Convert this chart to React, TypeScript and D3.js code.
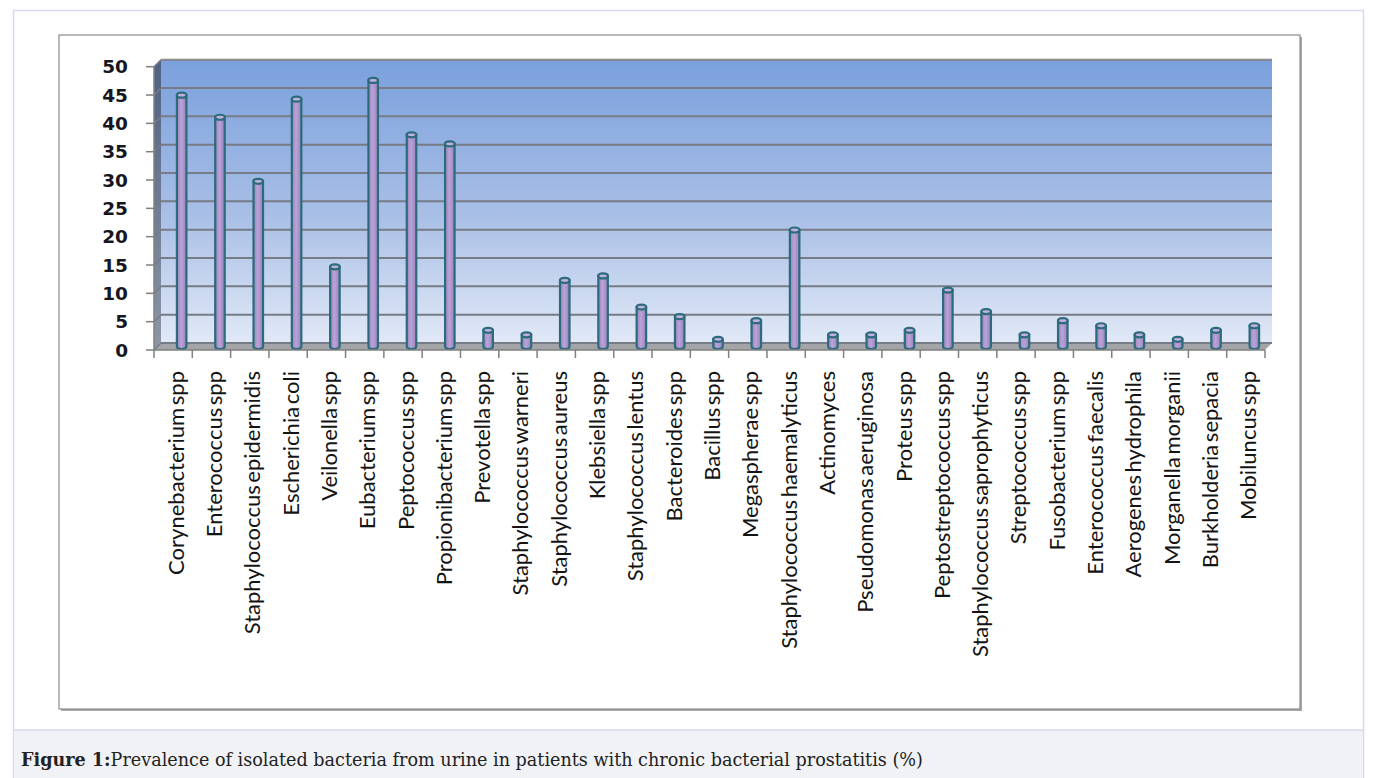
import React, { useEffect, useRef } from 'react';
import * as d3 from 'd3';

const categories: string[] = [
    'Corynebacterium spp', 'Enterococcus spp', 'Staphylococcus epidermidis', 'Escherichia coli',
    'Veilonella spp', 'Eubacterium spp', 'Peptococcus spp', 'Propionibacterium spp', 'Prevotella spp',
    'Staphylococcus warneri', 'Staphylococcus aureus', 'Klebsiella spp', 'Staphylococcus lentus',
    'Bacteroides spp', 'Bacillus spp', 'Megaspherae spp', 'Staphylococcus haemalyticus', 'Actinomyces',
    'Pseudomonas aeruginosa', 'Proteus spp', 'Peptostreptococcus spp', 'Staphylococcus saprophyticus',
    'Streptococcus spp', 'Fusobacterium  spp', 'Enterococcus faecalis', 'Aerogenes hydrophila',
    'Morganella morganii', 'Burkholderia sepacia', 'Mobiluncus spp'
];

const prevalence: number[] = [
    44.8, 40.9, 29.6, 44.1, 14.5, 47.4, 37.8, 36.2, 3.3, 2.5, 12.1, 12.9, 7.4, 5.7, 1.7,
    5.0, 21.0, 2.5, 2.5, 3.3, 10.4, 6.6, 2.5, 5.0, 4.1, 2.5, 1.7, 3.3, 4.1
];

const yTicks: number[] = [0, 5, 10, 15, 20, 25, 30, 35, 40, 45, 50];

const captionBold = 'Figure 1:';
const captionText = 'Prevalence of isolated bacteria from urine in patients with chronic bacterial prostatitis (%)';

export default function App() {
    const svgRef = useRef<SVGSVGElement>(null);

    useEffect(() => {
        if (!svgRef.current) return;
        const svg = d3.select(svgRef.current);
        svg.selectAll('*').remove();

        const W = 1375;
        const H = 778;

        // depth of the 3D box
        const dx = 7;
        const dy = -7;

        const x = d3.scaleBand<string>()
            .domain(categories)
            .range([154, 1265])
            .paddingInner(0)
            .paddingOuter(0);

        const y = d3.scaleLinear().domain([0, 50]).range([350, 66.7]);

        const defs = svg.append('defs');

        const wallGrad = defs.append('linearGradient')
            .attr('id', 'wall').attr('x1', 0).attr('y1', 0).attr('x2', 0).attr('y2', 1);
        wallGrad.append('stop').attr('offset', '0%').attr('stop-color', '#7aa0dd');
        wallGrad.append('stop').attr('offset', '55%').attr('stop-color', '#a9bfe6');
        wallGrad.append('stop').attr('offset', '100%').attr('stop-color', '#e1e9f7');

        const sideGrad = defs.append('linearGradient')
            .attr('id', 'side').attr('x1', 0).attr('y1', 0).attr('x2', 0).attr('y2', 1);
        sideGrad.append('stop').attr('offset', '0%').attr('stop-color', '#4f6184');
        sideGrad.append('stop').attr('offset', '100%').attr('stop-color', '#8d96a6');

        const barGrad = defs.append('linearGradient')
            .attr('id', 'bar').attr('x1', 0).attr('y1', 0).attr('x2', 1).attr('y2', 0);
        barGrad.append('stop').attr('offset', '0%').attr('stop-color', '#9a84bd');
        barGrad.append('stop').attr('offset', '45%').attr('stop-color', '#b9a3d8');
        barGrad.append('stop').attr('offset', '100%').attr('stop-color', '#9882bb');

        // page background and border
        svg.append('rect').attr('width', W).attr('height', H).attr('fill', '#ffffff');
        svg.append('rect')
            .attr('x', 13.5).attr('y', 10.5).attr('width', 1350).attr('height', H)
            .attr('fill', '#ffffff').attr('stroke', '#d8d9ee').attr('stroke-width', 1.5);

        // caption band
        svg.append('rect')
            .attr('x', 14).attr('y', 730).attr('width', 1349).attr('height', H - 730)
            .attr('fill', '#f1f2f6');
        svg.append('line')
            .attr('x1', 14).attr('x2', 1363).attr('y1', 730).attr('y2', 730)
            .attr('stroke', '#d8daec').attr('stroke-width', 1.5);

        const caption = svg.append('text')
            .attr('x', 21).attr('y', 766)
            .attr('font-family', '"DejaVu Serif", serif')
            .attr('font-size', '17.6px')
            .attr('fill', '#222');
        caption.append('tspan').attr('font-weight', 'bold').text(captionBold);
        caption.append('tspan').text(captionText);

        // chart frame with shadow
        svg.append('rect')
            .attr('x', 61).attr('y', 37).attr('width', 1241).attr('height', 674)
            .attr('fill', '#a9a9a9');
        svg.append('rect')
            .attr('x', 59).attr('y', 35).attr('width', 1241).attr('height', 674)
            .attr('fill', '#ffffff').attr('stroke', '#8a8a8a').attr('stroke-width', 1.2);

        const x0 = x.range()[0];
        const x1 = x.range()[1];

        // back wall
        svg.append('rect')
            .attr('x', x0 + dx).attr('y', y(50) + dy)
            .attr('width', x1 - x0).attr('height', y(0) - y(50))
            .attr('fill', 'url(#wall)');

        // left wall
        svg.append('path')
            .attr('d', `M${x0},${y(0)}L${x0},${y(50)}L${x0 + dx},${y(50) + dy}L${x0 + dx},${y(0) + dy}Z`)
            .attr('fill', 'url(#side)');

        // floor
        svg.append('path')
            .attr('d', `M${x0},${y(0)}L${x1},${y(0)}L${x1 + dx},${y(0) + dy}L${x0 + dx},${y(0) + dy}Z`)
            .attr('fill', '#a3a5a9');

        // gridlines (back wall + left wall)
        yTicks.forEach(v => {
            svg.append('line')
                .attr('x1', x0 + dx).attr('x2', x1 + dx)
                .attr('y1', y(v) + dy).attr('y2', y(v) + dy)
                .attr('stroke', '#767b85').attr('stroke-width', 2);
            svg.append('line')
                .attr('x1', x0).attr('x2', x0 + dx)
                .attr('y1', y(v)).attr('y2', y(v) + dy)
                .attr('stroke', '#767b85').attr('stroke-width', 1.5);
        });
        svg.append('line')
            .attr('x1', x0 + dx).attr('x2', x1 + dx)
            .attr('y1', y(50) + dy).attr('y2', y(50) + dy)
            .attr('stroke', '#8d8d8d').attr('stroke-width', 1.5);

        // bars as cylinders
        const bw = 9.5;
        const ry = 2.5;
        const bars = svg.append('g');
        categories.forEach((c, i) => {
            const cx = (x(c) as number) + x.bandwidth() / 2 + 8.5;
            const top = y(prevalence[i]) + dy / 2 + ry;
            const bottom = y(0) + dy / 2;
            const g = bars.append('g');
            g.append('path')
                .attr('d', `M${cx - bw / 2},${top}L${cx - bw / 2},${bottom}A${bw / 2},${ry} 0 0 0 ${cx + bw / 2},${bottom}L${cx + bw / 2},${top}Z`)
                .attr('fill', 'url(#bar)')
                .attr('stroke', '#2b6b7b').attr('stroke-width', 2.2);
            g.append('ellipse')
                .attr('cx', cx).attr('cy', top).attr('rx', bw / 2).attr('ry', ry)
                .attr('fill', '#c2b0de')
                .attr('stroke', '#2b6b7b').attr('stroke-width', 2.2);
        });

        // y axis
        svg.append('line')
            .attr('x1', x0).attr('x2', x0).attr('y1', y(50)).attr('y2', y(0))
            .attr('stroke', '#808080').attr('stroke-width', 1.5);
        yTicks.forEach(v => {
            svg.append('line')
                .attr('x1', x0 - 8).attr('x2', x0).attr('y1', y(v)).attr('y2', y(v))
                .attr('stroke', '#808080').attr('stroke-width', 1.5);
            svg.append('text')
                .attr('x', 128).attr('y', y(v))
                .attr('dy', '0.36em')
                .attr('text-anchor', 'end')
                .attr('font-family', '"DejaVu Sans", sans-serif')
                .attr('font-weight', 'bold')
                .attr('font-size', '18.5px')
                .attr('fill', '#161622')
                .text(String(v));
        });

        // x axis
        svg.append('line')
            .attr('x1', x0).attr('x2', x1).attr('y1', y(0)).attr('y2', y(0))
            .attr('stroke', '#808080').attr('stroke-width', 1.5);
        const edges = categories.map(c => x(c) as number).concat([x1]);
        edges.forEach(e => {
            svg.append('line')
                .attr('x1', e).attr('x2', e).attr('y1', y(0)).attr('y2', y(0) + 8)
                .attr('stroke', '#808080').attr('stroke-width', 1.5);
        });

        categories.forEach(c => {
            const cx = (x(c) as number) + x.bandwidth() / 2 + 2;
            svg.append('text')
                .attr('transform', `translate(${cx},371) rotate(-90)`)
                .attr('text-anchor', 'end')
                .attr('dominant-baseline', 'central')
                .attr('font-family', 'Lato, sans-serif')
                .attr('font-size', '22px')
                .attr('word-spacing', '-3px')
                .attr('fill', '#141414')
                .text(c);
        });
    }, []);

    return (
        <svg
            ref={svgRef}
            width={1375}
            height={778}
            style={{ position: 'absolute', left: 0, top: 0 }}
        ></svg>
    );
}
